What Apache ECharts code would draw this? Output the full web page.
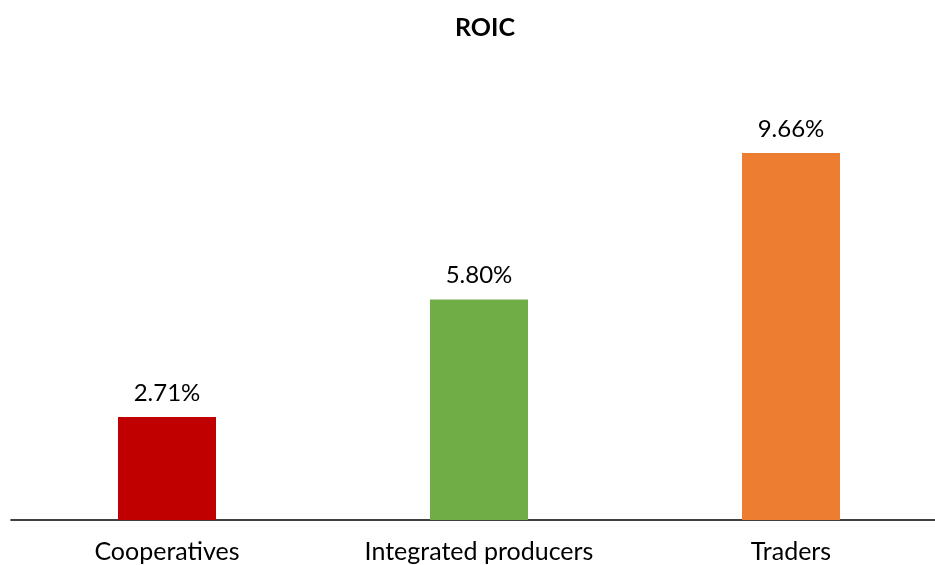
<!DOCTYPE html>
<html>
<head>
<meta charset="utf-8">
<script src="https://cdn.jsdelivr.net/npm/echarts@6/dist/echarts.min.js"></script>
<style>
  html,body{margin:0;padding:0;background:#fff;overflow:hidden;}
  /* the plot runs slightly past the right edge, as in the original */
  #chart{width:947px;height:565px;}
</style>
</head>
<body>
<div id="chart"></div>
<script>
const categories = ['Cooperatives', 'Integrated producers', 'Traders']
const roicValues = [2.71, 5.80, 9.66]
const barColors = ['#C00000', '#70AD47', '#ED7D31']

const chart = echarts.init(document.getElementById('chart'))
const font = 'Lato, "Open Sans", sans-serif'

const option = {
  animation: false,
  title: {
    text: 'ROIC',
    left: 480,
    top: 10,
    textAlign: 'center',
    textStyle: {fontFamily: font, fontSize: 25, fontWeight: 'bold', color: '#000'}
  },
  grid: {left: 11, right: 0, top: 64, bottom: 45},
  xAxis: {
    type: 'category',
    data: categories,
    axisTick: {show: false},
    axisLine: {lineStyle: {color: '#000', width: 1.5}},
    axisLabel: {margin: 19, fontFamily: font, fontSize: 25, color: '#000'}
  },
  yAxis: {
    type: 'value',
    min: 0,
    max: 12,
    show: false
  },
  series: [{
    type: 'bar',
    barWidth: 98,
    data: roicValues.map((v, i) => ({value: v, itemStyle: {color: barColors[i]}})),
    label: {
      show: true,
      position: 'top',
      distance: 12,
      fontFamily: font,
      fontSize: 24,
      color: '#000',
      formatter: p => p.value.toFixed(2) + '%'
    }
  }]
}
chart.setOption(option)
</script>
</body>
</html>
